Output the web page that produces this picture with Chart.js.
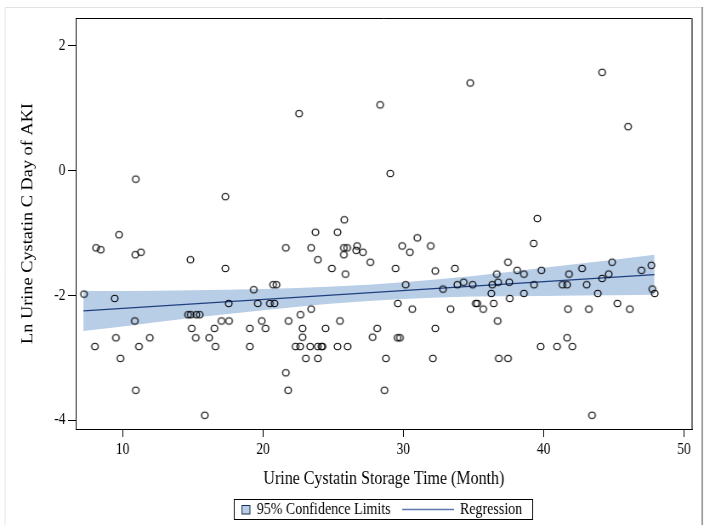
<!DOCTYPE html>
<html>
<head>
<meta charset="utf-8">
<script src="https://cdn.jsdelivr.net/npm/chart.js@4.4.1/dist/chart.umd.min.js"></script>
<style>
  html, body { margin: 0; padding: 0; background: #fff; overflow: hidden; }
  #wrap { width: 704px; height: 525px; overflow: hidden; }
  /* the original figure is horizontally condensed, so draw wide and squeeze */
  #chart { transform: scaleX(0.8502); transform-origin: 0 0; }
</style>
</head>
<body>
<div id="wrap"><canvas id="chart" width="828" height="525"></canvas></div>
<script>
// storage time (month) and ln urine cystatin C
const storageMonths = [
  10.93, 17.32, 9.74, 34.77, 28.35, 22.57, 29.07, 25.79, 23.74, 25.31,
  31.0, 44.17, 46.02, 39.55, 8.1, 8.43, 10.9, 11.3, 14.83, 17.32,
  21.63, 7.24, 9.43, 19.34, 20.72, 20.96, 17.56, 19.63, 20.49, 20.82,
  14.66, 14.85, 15.25, 15.49, 10.86, 17.04, 17.58, 19.91, 21.82, 14.92,
  16.54, 19.06, 20.18, 9.52, 11.93, 15.21, 16.16, 8.02, 11.16, 16.61,
  19.06, 9.84, 21.63, 10.93, 21.79, 15.85, 23.43, 25.76, 26.0, 26.71,
  26.64, 27.12, 25.76, 29.92, 30.47, 31.95, 23.91, 27.65, 24.91, 25.88,
  29.45, 32.28, 33.68, 37.46, 36.66, 30.17, 32.83, 33.85, 34.3, 34.94,
  36.34, 36.75, 37.55, 36.27, 37.58, 23.43, 29.61, 30.64, 33.37, 35.16,
  35.27, 35.7, 36.44, 22.67, 25.48, 36.72, 22.82, 24.46, 28.14, 32.28,
  22.82, 27.81, 29.59, 29.76, 22.32, 22.65, 23.36, 23.91, 24.17, 24.24,
  25.31, 26.03, 23.05, 23.91, 28.76, 32.11, 36.8, 37.46, 28.66, 39.29,
  38.12, 38.6, 39.84, 41.81, 42.74, 44.64, 44.88, 46.97, 47.68, 39.32,
  41.34, 41.67, 43.07, 44.17, 38.6, 43.86, 47.75, 47.92, 41.74, 43.22,
  45.26, 46.14, 41.67, 39.79, 40.96, 42.05, 43.45
];
const lnCystatin = [
  -0.14, -0.42, -1.03, 1.40, 1.05, 0.91, -0.05, -0.79, -0.99, -0.99,
  -1.08, 1.57, 0.70, -0.77, -1.24, -1.27, -1.35, -1.31, -1.43, -1.57,
  -1.24, -1.98, -2.05, -1.91, -1.83, -1.83, -2.13, -2.13, -2.13, -2.13,
  -2.31, -2.31, -2.31, -2.31, -2.41, -2.41, -2.41, -2.41, -2.41, -2.53,
  -2.53, -2.53, -2.53, -2.68, -2.68, -2.68, -2.68, -2.82, -2.82, -2.82,
  -2.82, -3.01, -3.24, -3.52, -3.52, -3.92, -1.24, -1.24, -1.24, -1.21,
  -1.28, -1.31, -1.35, -1.21, -1.31, -1.21, -1.43, -1.47, -1.57, -1.66,
  -1.57, -1.61, -1.57, -1.47, -1.66, -1.83, -1.90, -1.83, -1.79, -1.83,
  -1.83, -1.79, -1.79, -1.97, -2.05, -2.22, -2.13, -2.22, -2.22, -2.13,
  -2.13, -2.22, -2.13, -2.31, -2.41, -2.41, -2.53, -2.53, -2.53, -2.53,
  -2.67, -2.67, -2.68, -2.68, -2.82, -2.82, -2.82, -2.82, -2.82, -2.82,
  -2.82, -2.82, -3.01, -3.01, -3.01, -3.01, -3.01, -3.01, -3.52, -1.17,
  -1.60, -1.66, -1.60, -1.66, -1.57, -1.66, -1.47, -1.60, -1.52, -1.83,
  -1.83, -1.83, -1.83, -1.73, -1.97, -1.97, -1.90, -1.97, -2.22, -2.22,
  -2.13, -2.22, -2.68, -2.82, -2.82, -2.82, -3.92
];

// fitted line and 95% confidence band
const regX = [7.2, 47.9];
const regY = [-2.25, -1.67];
const bandX = [7.2, 10, 15, 20, 25, 30, 35, 40, 45, 47.9];
const bandUpper = [-1.93, -1.93, -1.92, -1.90, -1.86, -1.79, -1.69, -1.56, -1.43, -1.35];
const bandLower = [-2.57, -2.50, -2.36, -2.24, -2.13, -2.06, -2.02, -2.01, -2.00, -1.99];

const xTicks = [10, 20, 30, 40, 50];
const yTicks = [-4, -2, 0, 2];

const SQUEEZE = 0.8502;
const serif = "'Liberation Serif', 'Times New Roman', serif";
const bandColor = "#b8cde6";
const lineColor = "#1f4080";

const xTitle = "Urine Cystatin Storage Time (Month)";
const yTitle = "Ln Urine Cystatin C Day of AKI";

// pick a font size so a text gets the width it has in the picture
function fitSize(text, target) {
  const m = document.createElement("canvas").getContext("2d");
  m.font = "20px " + serif;
  return 20 * target / m.measureText(text).width;
}
const xTitleSize = fitSize(xTitle, 241 / SQUEEZE);
const yTitleSize = fitSize(yTitle, 241);
const legendSize = fitSize("95% Confidence Limits", 134 / SQUEEZE);
const tickSize = fitSize("10", 13.5 / SQUEEZE);

// open circle that stays round after the squeeze
function ring(r) {
  const w = Math.ceil(2 * r / SQUEEZE) + 4;
  const h = Math.ceil(2 * r) + 4;
  const cv = document.createElement("canvas");
  cv.width = w;
  cv.height = h;
  const g = cv.getContext("2d");
  g.setTransform(1 / SQUEEZE, 0, 0, 1, w / 2, h / 2);
  g.strokeStyle = "#000";
  g.lineWidth = 1.1;
  g.beginPath();
  g.arc(0, 0, r, 0, Math.PI * 2);
  g.stroke();
  return cv;
}

const points = storageMonths.map((x, i) => ({ x: x, y: lnCystatin[i] }));
const regression = regX.map((x, i) => ({ x: x, y: regY[i] }));
const upper = bandX.map((x, i) => ({ x: x, y: bandUpper[i] }));
const lower = bandX.map((x, i) => ({ x: x, y: bandLower[i] }));

// frame round the plot area + the outer border of the figure
const framePlugin = {
  id: "frame",
  afterDraw(chart) {
    const c = chart.ctx;
    const a = chart.chartArea;
    c.save();
    c.lineWidth = 1;
    c.strokeStyle = "#000";
    c.beginPath();
    c.moveTo(a.right, a.top + 0.5);
    c.lineTo(a.left, a.top + 0.5);
    c.stroke();
    c.strokeStyle = "#777";
    c.lineWidth = 2;
    c.beginPath();
    c.moveTo(a.right, a.top);
    c.lineTo(a.right, a.bottom);
    c.stroke();

    c.strokeStyle = "#e2e2e2";
    c.lineWidth = 1;
    c.beginPath();
    c.moveTo(6, 525);
    c.lineTo(6, 7.5);
    c.lineTo(826, 7.5);
    c.stroke();
    c.strokeStyle = "#999";
    c.lineWidth = 2;
    c.beginPath();
    c.moveTo(826, 7);
    c.lineTo(826, 525);
    c.stroke();
    c.restore();
  }
};

// boxed legend under the axis title
const legendPlugin = {
  id: "boxLegend",
  afterDraw(chart) {
    const c = chart.ctx;
    c.save();
    c.strokeStyle = "#000";
    c.lineWidth = 1;
    c.strokeRect(275.5, 499.5, 351, 20);
    c.fillStyle = bandColor;
    c.fillRect(284.5, 505.5, 9.5, 8.5);
    c.strokeStyle = "#1a2f55";
    c.strokeRect(284.5, 505.5, 9.5, 8.5);
    c.font = legendSize + "px " + serif;
    c.fillStyle = "#000";
    c.textBaseline = "middle";
    c.fillText("95% Confidence Limits", 302, 510);
    c.strokeStyle = "#5a7ab0";
    c.lineWidth = 1.5;
    c.beginPath();
    c.moveTo(473, 509.5);
    c.lineTo(534, 509.5);
    c.stroke();
    c.fillText("Regression", 541, 510);
    c.restore();
  }
};

const ctx = document.getElementById("chart").getContext("2d");
new Chart(ctx, {
  type: "scatter",
  data: {
    datasets: [
      {
        label: "Observed",
        data: points,
        pointStyle: ring(3.3),
        pointRadius: 4,
        order: 0,
      },
      {
        type: "line",
        label: "Regression",
        data: regression,
        borderColor: lineColor,
        borderWidth: 1.3,
        pointRadius: 0,
        fill: false,
        order: 1,
      },
      {
        type: "line",
        label: "lower",
        data: lower,
        borderWidth: 0,
        borderColor: "rgba(0,0,0,0)",
        pointRadius: 0,
        cubicInterpolationMode: "monotone",
        fill: false,
        order: 2,
      },
      {
        type: "line",
        label: "95% Confidence Limits",
        data: upper,
        borderWidth: 0,
        borderColor: "rgba(0,0,0,0)",
        backgroundColor: bandColor,
        pointRadius: 0,
        cubicInterpolationMode: "monotone",
        fill: "-1",
        order: 2,
      },
    ],
  },
  options: {
    responsive: false,
    animation: false,
    layout: { padding: { left: 0, right: 14, top: 18, bottom: 0 } },
    plugins: {
      legend: { display: false },
      tooltip: { enabled: false },
    },
    scales: {
      x: {
        type: "linear",
        position: "bottom",
        min: 6.65,
        max: 50.58,
        afterBuildTicks: (s) => { s.ticks = xTicks.map((v) => ({ value: v })); },
        afterFit: (s) => { s.height = 96; },
        grid: { drawOnChartArea: false, drawTicks: true, tickLength: 8, tickColor: "#000" },
        border: { display: true, color: "#000", width: 1 },
        ticks: { color: "#000", font: { family: serif, size: tickSize }, padding: 3, maxRotation: 0, autoSkip: false },
        title: {
          display: true,
          text: xTitle,
          color: "#000",
          font: { family: serif, size: xTitleSize, lineHeight: 1.2 },
          padding: { top: 0, bottom: 46 - xTitleSize * 0.6 },
        },
      },
      y: {
        type: "linear",
        min: -4.14,
        max: 2.44,
        afterBuildTicks: (s) => { s.ticks = yTicks.map((v) => ({ value: v })); },
        afterFit: (s) => { s.width = 89; },
        grid: { drawOnChartArea: false, drawTicks: true, tickLength: 9, tickColor: "#000" },
        border: { display: true, color: "#000", width: 1 },
        ticks: { color: "#000", font: { family: serif, size: tickSize }, padding: 3 },
        title: {
          display: true,
          text: yTitle,
          color: "#000",
          font: { family: serif, size: yTitleSize, lineHeight: 1.2 },
          padding: { top: 33 - yTitleSize * 0.6, bottom: 0 },
        },
      },
    },
  },
  plugins: [framePlugin, legendPlugin],
});
</script>
</body>
</html>
